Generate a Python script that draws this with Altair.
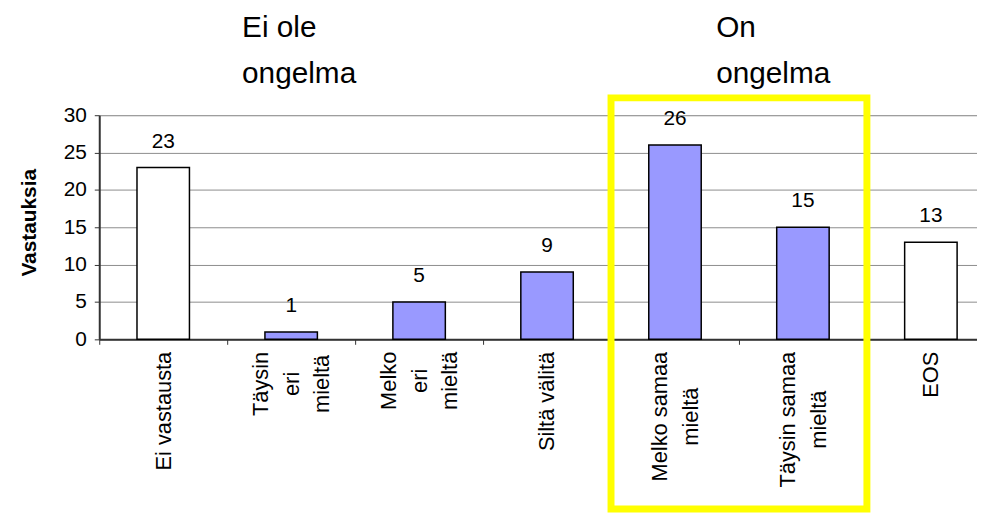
import altair as alt
import pandas as pd

# ---- data ----
label_lines = [
    ["Ei vastausta"],
    ["Täysin", "eri", "mieltä"],
    ["Melko", "eri", "mieltä"],
    ["Siltä välitä"],
    ["Melko samaa", "mieltä"],
    ["Täysin samaa", "mieltä"],
    ["EOS"],
]
values = [23, 1, 5, 9, 26, 15, 13]
is_answer = [False, True, True, True, True, True, False]
y_ticks = [0, 5, 10, 15, 20, 25, 30]
y_title = "Vastauksia"
note_left = ["Ei ole", "ongelma"]
note_right = ["On", "ongelma"]

FONT = "Liberation Sans, Arial, sans-serif"
XLAB_SIZE = 22

# approximate Arial advance widths (em), used to centre the wrapped labels under the axis
_W = {'a': .556, 'e': .556, 'i': .222, 'l': .222, 'm': .833, 'n': .556, 'o': .556,
      'r': .333, 's': .5, 't': .278, 'u': .556, 'v': .5, 'y': .5, 'k': .5, 'ä': .556,
      'T': .611, 'M': .833, 'E': .667, 'O': .778, 'S': .667, ' ': .278}


def half_width(lines):
    return max(sum(_W.get(c, .55) for c in ln) for ln in lines) * XLAB_SIZE / 2


cats = ["|".join(l) for l in label_lines]
pad_expr = "".join(
    f"datum.label === '{c}' ? {7 + half_width(l):.1f} : " for c, l in zip(cats, label_lines)
) + "7"

fills = ["#9999FF" if a else "#FFFFFF" for a in is_answer]
df = pd.DataFrame({"cat": cats, "value": values, "fill": fills})

x_scale = alt.Scale(domain=cats, paddingInner=0, paddingOuter=0, range=[0, 903])
y_scale = alt.Scale(domain=[0, 30], nice=False)

x_axis = alt.Axis(
    title=None, labelAngle=-90, labelAlign="center", labelExpr="split(datum.label, '|')",
    labelOffset=alt.ExprRef(expr="-15.5 * (length(split(datum.label, '|')) - 1)"),
    labelPadding=alt.ExprRef(expr=pad_expr),
    labelLineHeight=31, tickBand="extent", tickSize=5,
    grid=False, labelLimit=0,
)
y_axis = alt.Axis(values=y_ticks, title=y_title, grid=True, tickSize=5,
                  labelPadding=8, titlePadding=24, titleY=108)


def X(field, bp=None):
    kw = {} if bp is None else {"bandPosition": bp}
    return alt.X(f"{field}:N", sort=cats, scale=x_scale, axis=x_axis, **kw)


def Yf(field):
    return alt.Y(f"{field}:Q", scale=y_scale, axis=y_axis)


def Yd(v):
    return alt.Y(datum=v, type="quantitative", scale=y_scale, axis=y_axis)


base = alt.Chart(df)
bars = base.mark_bar(width=alt.RelativeBandSize(0.41), stroke="black", strokeWidth=1.5).encode(
    x=X("cat"), y=Yf("value"), fill=alt.Fill("fill:N", scale=None)
)
nums = base.mark_text(dy=-20, baseline="alphabetic", fontSize=21, font=FONT, color="black").encode(
    x=X("cat"), y=Yf("value"), text="value:Q"
)

box_df = pd.DataFrame({"cat": [cats[4]], "cat2": [cats[5]]})
box = alt.Chart(box_df).mark_rect(fillOpacity=0, stroke="#FFFF00", strokeWidth=7).encode(
    x=X("cat", 0),
    x2=alt.X2("cat2", bandPosition=1),
    y=Yd(32.32),
    y2=alt.datum(-22.7),
)

nl = pd.DataFrame({"t": ["\n".join(note_left)], "cat": [cats[1]]})
nr = pd.DataFrame({"t": ["\n".join(note_right)], "cat": [cats[4]]})
note_l = alt.Chart(nl).mark_text(align="left", baseline="alphabetic", fontSize=30, font=FONT,
                                 lineBreak="\n", lineHeight=47, dx=15, dy=-79, color="black").encode(
    x=X("cat", 0), y=Yd(30), text="t:N"
)
note_r = alt.Chart(nr).mark_text(align="left", baseline="alphabetic", fontSize=30, font=FONT,
                                 lineBreak="\n", lineHeight=47, dx=106, dy=-79, color="black").encode(
    x=X("cat", 0), y=Yd(30), text="t:N"
)

chart = alt.layer(bars, nums, box, note_l, note_r).properties(
    width=885, height=226,
    autosize=alt.AutoSizeParams(type="none"),
    padding={"left": 92, "top": 106, "right": 0, "bottom": 175},
).configure_view(stroke=None).configure(background="white").configure_axisX(
    labelFontSize=XLAB_SIZE, labelFont=FONT, labelColor="black",
    tickColor="#333333", domainColor="#333333", domainWidth=2,
).configure_axisY(
    titleFontSize=21, titleFontWeight="bold", titleFont=FONT, titleColor="black",
    labelFontSize=21, labelFont=FONT, labelColor="black",
    tickColor="#333333", domainColor="#333333", domainWidth=2,
    gridColor="#8c8c8c", gridWidth=1,
)

chart.save("out.html", embed_options={"renderer": "svg", "actions": False})
